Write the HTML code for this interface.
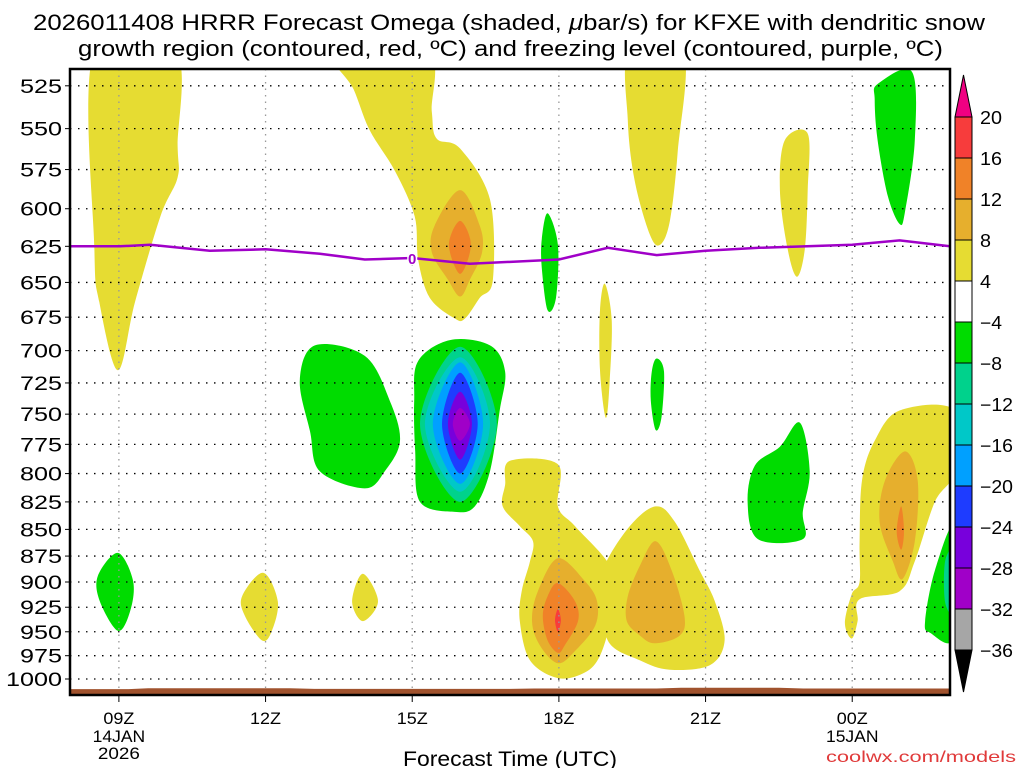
<!DOCTYPE html>
<html><head><meta charset="utf-8"><style>
body{margin:0;background:#fff;}
svg{display:block;font-family:"Liberation Sans",sans-serif;}
</style></head><body>
<svg id="chart" width="1024" height="768" viewBox="0 0 1024 768">
<g font-size="22" fill="#000">
<text x="33" y="30" textLength="952" lengthAdjust="spacingAndGlyphs">2026011408 HRRR Forecast Omega (shaded, <tspan font-style="italic">μ</tspan>bar/s) for KFXE with dendritic snow</text>
<text x="78" y="56" textLength="865" lengthAdjust="spacingAndGlyphs">growth region (contoured, red, ºC) and freezing level (contoured, purple, ºC)</text>
</g>
<clipPath id="clip"><rect x="70" y="69" width="880" height="626"/></clipPath>
<g id="shades" clip-path="url(#clip)"></g>
<g id="grid"></g>
<g id="frz" clip-path="url(#clip)"></g>
<g id="terrain" clip-path="url(#clip)"></g>
<rect x="70" y="69" width="880" height="626" fill="none" stroke="#000" stroke-width="2.5"/>
<g id="yaxis" font-size="19" text-anchor="end"></g>
<g id="xaxis" font-size="17" text-anchor="middle"></g>
<text x="403" y="766" font-size="21" textLength="214" lengthAdjust="spacingAndGlyphs">Forecast Time (UTC)</text>
<text x="826" y="762" font-size="16" textLength="190" lengthAdjust="spacingAndGlyphs" fill="#e03a3a">coolwx.com/models</text>
<g id="cbar" font-size="18"></g>
</svg>
<script>
// ---- data ----
const pressureTicks=[525,550,575,600,625,650,675,700,725,750,775,800,825,850,875,900,925,950,975,1000];
const hourTicks=[9,12,15,18,21,24];
const hourLabels=["09Z","12Z","15Z","18Z","21Z","00Z"];
const dateLabels=[["14JAN","2026"],[],[],[],[],["15JAN"]];
const cbarLevels=[20,16,12,8,4,-4,-8,-12,-16,-20,-24,-28,-32,-36];
const cbarColors=["#f73c3c","#f08228","#e6af2d","#e6dc32","#ffffff","#00dc00","#00d28c","#00c8c8","#00a0ff","#1e3cff","#7800dc","#a000c8","#a6a6a6"];
const frzHours=[8,9.02,9.64,10.86,12,13.11,14.03,15,16.18,18,19,20,21,22.1,24,24.97,26];
const frzPres=[625,625,624,628,627,630,634,633,637,634,626,631,628,626,624,621,625];
const sfcHours=[8,9.2,9.6,12.5,13,17,17.5,20,20.5,22.5,23,26];
const sfcPres=[1011,1011,1010,1010,1010.8,1010.8,1010.4,1010.4,1009.6,1009.6,1010.4,1010.4];
// omega contour regions: [level, [[hour,hPa],...]]
const omegaRegions=[
["y",[[8.5,505],[10.15,505],[10.2,560],[10.2,580],[9.85,605],[9.33,664],[8.98,715],[8.6,664],[8.5,627]]],
["y",[[13.4,505],[15.3,505],[15.4,540],[15.5,556],[15.98,562],[16.59,594],[16.65,648],[16.38,661],[16.08,676],[15.87,676],[15.36,661],[15.12,634],[15.05,605],[14.65,576],[14.13,551],[13.8,527]]],
["g1",[[15.98,588],[16.38,611],[16.43,629],[16.18,648],[15.98,660],[15.73,648],[15.4,629],[15.46,611]]],
["o",[[15.98,608],[16.2,624],[15.98,644],[15.75,624]]],
["n4",[[13.01,696],[14.03,704],[14.54,739],[14.75,772],[14.44,798],[14.03,813],[13.11,798],[12.91,764],[12.7,723]]],
["n4",[[15.12,708],[15.77,692],[16.59,696],[16.9,716],[16.79,747],[16.59,798],[16.28,829],[15.87,834],[15.16,825],[15.06,781],[15.04,739]]],
["n8",[[15.98,697],[16.73,758],[15.98,825],[15.16,758]]],
["n12",[[15.98,705],[16.59,758],[15.98,816],[15.26,758]]],
["n16",[[15.98,709],[16.45,758],[15.98,809],[15.42,758]]],
["n20",[[15.98,717],[16.34,758],[15.98,800],[15.61,758]]],
["n24",[[15.98,732],[16.22,758],[15.98,788],[15.73,758]]],
["n28",[[15.98,745],[16.18,758],[15.98,772],[15.83,758]]],
["n4",[[17.77,603],[17.98,624],[17.94,661],[17.77,670],[17.65,640],[17.65,620]]],
["y",[[19.45,505],[20.54,505],[20.43,564],[20.27,608],[20.07,624],[19.86,617],[19.55,582],[19.41,545]]],
["y",[[18.94,651],[19.08,677],[19.04,723],[18.96,753],[18.84,715],[18.84,670]]],
["n4",[[20.0,706],[20.15,716],[20.1,752],[19.98,763],[19.88,739],[19.9,716]]],
["y",[[22.62,557],[23.09,553],[23.09,588],[23.03,627],[22.87,646],[22.68,627],[22.52,588]]],
["n4",[[24.52,524],[25.22,517],[25.28,557],[25.08,602],[24.97,610],[24.73,592],[24.52,557],[24.46,533]]],
["n4",[[22.93,757],[23.13,798],[22.99,834],[22.99,859],[22.07,859],[21.86,825],[22.01,793],[22.52,777]]],
["y",[[24.97,747],[26.1,747],[26.1,798],[25.69,825],[25.28,880],[24.97,909],[24.15,917],[24.11,939],[23.99,957],[23.85,941],[23.99,912],[24.15,900],[24.15,861],[24.2,806],[24.46,772]]],
["g1",[[25.08,781],[25.34,806],[25.28,861],[25.03,897],[24.83,880],[24.56,843],[24.67,806]]],
["o",[[25,829],[25.06,852],[25,869],[24.91,852]]],
["n4",[[26.1,847],[26.1,954],[25.59,951],[25.49,939],[25.69,889]]],
["n8",[[26.1,870],[26.1,930],[25.9,920],[25.9,880]]],
["n4",[[8.98,872],[9.29,899],[9.23,929],[8.98,949],[8.61,919],[8.57,894]]],
["y",[[11.95,891],[12.25,919],[12.13,949],[11.93,959],[11.58,934],[11.52,914]]],
["y",[[13.99,892],[14.3,919],[13.99,939],[13.77,919]]],
["y",[[17,789],[17.98,792],[17.98,829],[18.33,847],[19.04,884],[18.98,909],[19.04,939],[18.84,975],[18.53,993],[17.98,999],[17.41,980],[17.2,939],[17.24,909],[17.41,880],[17.47,861],[17.2,847],[16.85,829],[16.9,810]]],
["y",[[18.94,884],[19.45,847],[19.98,829],[20.37,843],[20.88,889],[21.19,919],[21.39,959],[21.09,985],[20.27,990],[19.66,980],[19.0,959],[18.94,909]]],
["g1",[[17.98,877],[18.53,899],[18.78,919],[18.74,944],[18.33,970],[17.98,983],[17.61,964],[17.45,939],[17.57,909]]],
["o",[[17.98,901],[18.33,919],[18.39,939],[18.12,964],[17.98,972],[17.77,959],[17.67,934],[17.77,914]]],
["r",[[17.98,927],[18.04,938],[17.98,950],[17.92,938]]],
["g1",[[19.98,861],[20.31,889],[20.57,934],[20.47,954],[19.96,962],[19.66,954],[19.39,939],[19.41,914],[19.66,884]]]
];
const levelColor={y:"#e6dc32",g1:"#e6af2d",o:"#f08228",r:"#f73c3c",n4:"#00dc00",n8:"#00d28c",n12:"#00c8c8",n16:"#00a0ff",n20:"#1e3cff",n24:"#7800dc",n28:"#a000c8"};
// ---- axes ----
const X0=70,X1=950,H0=8,H1=26;
const xs=h=>X0+(h-H0)*(X1-X0)/(H1-H0);
const ys=p=>679+920.6*Math.log(p/1000);
const NS="http://www.w3.org/2000/svg";
function mk(tag,attrs,parent){const e=document.createElementNS(NS,tag);for(const k in attrs)e.setAttribute(k,attrs[k]);parent.appendChild(e);return e;}
function smooth(pts){const n=pts.length;let d="M"+pts[0][0].toFixed(1)+","+pts[0][1].toFixed(1);
 for(let i=0;i<n;i++){const p0=pts[(i-1+n)%n],p1=pts[i],p2=pts[(i+1)%n],p3=pts[(i+2)%n];
  const c1=[p1[0]+(p2[0]-p0[0])/6,p1[1]+(p2[1]-p0[1])/6],c2=[p2[0]-(p3[0]-p1[0])/6,p2[1]-(p3[1]-p1[1])/6];
  d+="C"+c1[0].toFixed(1)+","+c1[1].toFixed(1)+" "+c2[0].toFixed(1)+","+c2[1].toFixed(1)+" "+p2[0].toFixed(1)+","+p2[1].toFixed(1);}
 return d+"Z";}
const shades=document.getElementById('shades');
omegaRegions.forEach((r,i)=>{
 const pts=r[1].map(q=>[xs(q[0]),ys(q[1])]);
 const e=mk('path',{d:smooth(pts),fill:levelColor[r[0]]},shades);
 
 
});
const grid=document.getElementById('grid'),ya=document.getElementById('yaxis'),xa=document.getElementById('xaxis');
pressureTicks.forEach(p=>{
 const y=ys(p);
 const l=mk('line',{x1:X0,x2:X1,y1:y,y2:y,stroke:'#000','stroke-width':1.3,'stroke-dasharray':'1.5 6.5'},grid);
 
 
 mk('line',{x1:X0-5,x2:X0,y1:y,y2:y,stroke:'#000','stroke-width':1},ya);
 const s=String(p);
 const t=mk('text',{x:X0-8,y:y+7,textLength:s.length*14,lengthAdjust:'spacingAndGlyphs'},ya);t.textContent=s;
 
 
});
hourTicks.forEach((h,i)=>{
 const x=xs(h);
 const l=mk('line',{x1:x,x2:x,y1:69,y2:695,stroke:'#999','stroke-width':1.3,'stroke-dasharray':'1.5 5'},grid);
 
 
 mk('line',{x1:x,x2:x,y1:695,y2:702,stroke:'#000','stroke-width':1},xa);
 const t=mk('text',{x:x,y:724,textLength:31,lengthAdjust:'spacingAndGlyphs'},xa);t.textContent=hourLabels[i];
 
 
 dateLabels[i].forEach((s,j)=>{const d=mk('text',{x:x,y:742+j*17,textLength:s.length*10.5,lengthAdjust:'spacingAndGlyphs'},xa);d.textContent=s;
  
  });
});
// freezing level
const frz=document.getElementById('frz');
let fd=frzHours.map((h,i)=>(i?'L':'M')+xs(h).toFixed(1)+','+ys(frzPres[i]).toFixed(1)).join('');
const fl=mk('path',{d:fd,fill:'none',stroke:'#a000c8','stroke-width':2.5},frz);


const lx=xs(15),ly=ys(633);
mk('rect',{x:lx-5,y:ly-8,width:10,height:15,fill:'#fff'},frz);
const ft=mk('text',{x:lx,y:ly+6,'font-size':15,'text-anchor':'middle',fill:'#a000c8','font-weight':'bold'},frz);ft.textContent='0';


// terrain
const ter=document.getElementById('terrain');
let td='M'+xs(sfcHours[0])+',700';
sfcHours.forEach((h,i)=>{td+='L'+xs(h).toFixed(1)+','+ys(sfcPres[i]).toFixed(1);});
td+='L'+xs(sfcHours[sfcHours.length-1])+',700Z';
const tp=mk('path',{d:td,fill:'#a0522d'},ter);


// colorbar
const cb=document.getElementById('cbar');
const CX=955,CW=17,CT=117,CB=650,bh=(CB-CT)/cbarColors.length;
const up=mk('path',{d:`M${CX},${CT}L${CX+CW/2},75L${CX+CW},${CT}Z`,fill:'#f00082',stroke:'#000','stroke-width':1},cb);


cbarColors.forEach((c,i)=>{const r=mk('rect',{x:CX,y:CT+i*bh,width:CW,height:bh,fill:c,stroke:'#000','stroke-width':1},cb);
 
 });
const dn=mk('path',{d:`M${CX},${CB}L${CX+CW/2},692L${CX+CW},${CB}Z`,fill:'#000',stroke:'#000','stroke-width':1},cb);


cbarLevels.forEach((v,i)=>{const s=(v<0?'\u2212'+(-v):String(v));
 const t=mk('text',{x:980,y:CT+i*bh+7,textLength:s.length*11,lengthAdjust:'spacingAndGlyphs'},cb);t.textContent=s;
 
 });
</script>
</body></html>
